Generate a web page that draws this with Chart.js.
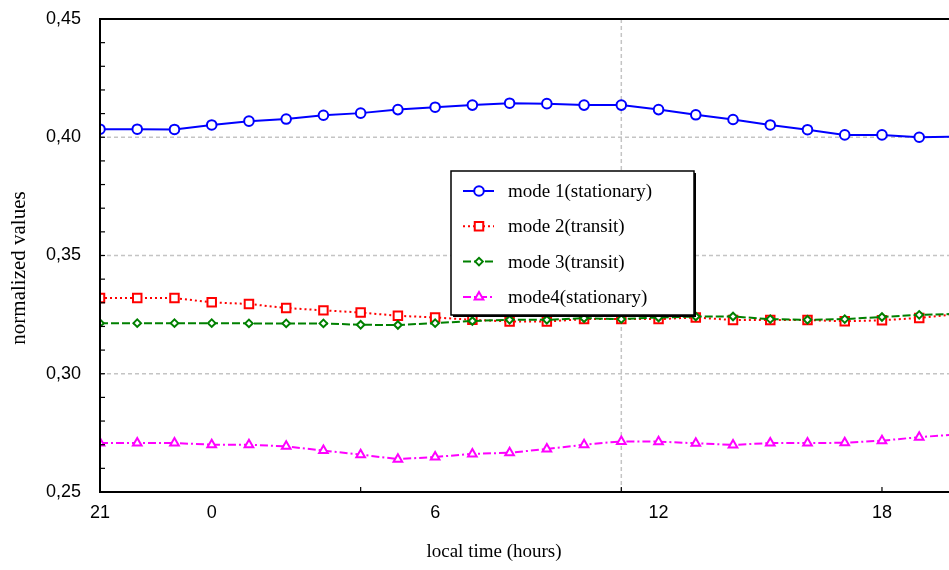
<!DOCTYPE html>
<html>
<head>
<meta charset="utf-8">
<script src="https://cdn.jsdelivr.net/npm/chart.js@4/dist/chart.umd.min.js"></script>
<style>
  html, body { margin: 0; padding: 0; background: #ffffff; }
  canvas { display: block; }
</style>
</head>
<body>
<canvas id="chart" width="949" height="570"></canvas>
<script>
// Hourly samples, starting at 21 h local time
const hours = [21, 22, 23, 0, 1, 2, 3, 4, 5, 6, 7, 8, 9, 10, 11, 12, 13, 14, 15, 16, 17, 18, 19, 20];

const mode1 = [0.4034, 0.4034, 0.4033, 0.4052, 0.4068, 0.4077, 0.4093, 0.4102, 0.4117, 0.4127, 0.4136, 0.4144,
               0.4142, 0.4136, 0.4136, 0.4117, 0.4095, 0.4075, 0.4052, 0.4032, 0.4010, 0.4010, 0.4000, 0.4003];
const mode2 = [0.3320, 0.3320, 0.3320, 0.3302, 0.3295, 0.3278, 0.3268, 0.3259, 0.3245, 0.3238, 0.3228, 0.3221,
               0.3221, 0.3231, 0.3231, 0.3231, 0.3238, 0.3227, 0.3227, 0.3227, 0.3222, 0.3226, 0.3236, 0.3252];
const mode3 = [0.3214, 0.3214, 0.3214, 0.3214, 0.3213, 0.3213, 0.3213, 0.3207, 0.3206, 0.3214, 0.3223, 0.3228,
               0.3228, 0.3235, 0.3231, 0.3238, 0.3242, 0.3242, 0.3231, 0.3228, 0.3231, 0.3240, 0.3249, 0.3253];
const mode4 = [0.2707, 0.2707, 0.2707, 0.2700, 0.2700, 0.2693, 0.2675, 0.2658, 0.2639, 0.2648, 0.2661, 0.2666,
               0.2682, 0.2700, 0.2714, 0.2713, 0.2706, 0.2699, 0.2707, 0.2707, 0.2708, 0.2717, 0.2732, 0.2743];

const seriesNames = ['mode 1(stationary)', 'mode 2(transit)', 'mode 3(transit)', 'mode4(stationary)'];

// Labelled hours on the time axis and value ticks on the vertical axis
const xTickHours = [21, 0, 6, 12, 18];
const yTicks = [0.25, 0.30, 0.35, 0.40, 0.45];

const xTitle = 'local time (hours)';
const yTitle = 'normalized values';

const SANS = "'Liberation Sans', Arial, sans-serif";
const SERIF = "'Liberation Serif', 'Times New Roman', serif";

const toPoints = vals => vals.map((v, i) => ({ x: i, y: v }));
const fmt = v => v.toFixed(2).replace('.', ',');

// Dashed grid, inward tick marks, the axis frame and the axis titles
const framePlugin = {
  id: 'frame',
  beforeDatasetsDraw(chart) {
    const { ctx, chartArea: a, scales: { x, y } } = chart;
    ctx.save();
    ctx.strokeStyle = '#c4c4c4';
    ctx.lineWidth = 1.5;
    ctx.setLineDash([4, 3]);
    yTicks.slice(1, -1).forEach(v => {
      const py = y.getPixelForValue(v);
      ctx.beginPath();
      ctx.moveTo(a.left, py);
      ctx.lineTo(a.right, py);
      ctx.stroke();
    });
    const gx = x.getPixelForValue(14);
    ctx.beginPath();
    ctx.moveTo(gx, a.top);
    ctx.lineTo(gx, a.bottom);
    ctx.stroke();
    ctx.restore();
  },
  afterDatasetsDraw(chart) {
    const { ctx, chartArea: a, scales: { x, y } } = chart;
    ctx.save();
    ctx.strokeStyle = '#000000';
    ctx.setLineDash([]);
    ctx.lineWidth = 1.2;
    // minor ticks every 0.01 on the value axis
    for (let k = 0; k <= 20; k++) {
      const py = y.getPixelForValue(0.25 + k * 0.01);
      ctx.beginPath();
      ctx.moveTo(a.left, py);
      ctx.lineTo(a.left + 5, py);
      ctx.stroke();
    }
    [0, 7, 14, 21].forEach(i => {
      const px = x.getPixelForValue(i);
      ctx.beginPath();
      ctx.moveTo(px, a.bottom);
      ctx.lineTo(px, a.bottom - 5);
      ctx.stroke();
    });
    ctx.lineWidth = 2;
    ctx.beginPath();
    ctx.moveTo(a.right, a.top);
    ctx.lineTo(a.left, a.top);
    ctx.lineTo(a.left, a.bottom);
    ctx.lineTo(a.right, a.bottom);
    ctx.stroke();

    // axis titles
    ctx.fillStyle = '#000000';
    ctx.textAlign = 'center';
    ctx.textBaseline = 'middle';
    ctx.font = '19px ' + SERIF;
    ctx.fillText(xTitle, 494, 552);
    ctx.translate(19, 268);
    ctx.rotate(-Math.PI / 2);
    ctx.font = '21px ' + SERIF;
    ctx.fillText(yTitle, 0, 0);
    ctx.restore();
  }
};

// Boxed legend inside the plot
const legendPlugin = {
  id: 'boxLegend',
  afterDraw(chart) {
    const { ctx } = chart;
    const bx = 451, by = 171, bw = 243, bh = 144;
    ctx.save();
    ctx.fillStyle = '#000000';
    ctx.fillRect(bx + 2, by + 2, bw, bh);
    ctx.fillStyle = '#ffffff';
    ctx.fillRect(bx, by, bw, bh);
    ctx.strokeStyle = '#000000';
    ctx.lineWidth = 1.5;
    ctx.strokeRect(bx, by, bw, bh);
    chart.data.datasets.forEach((ds, i) => {
      const cy = by + 20 + i * 35.3;
      ctx.strokeStyle = ds.borderColor;
      ctx.lineWidth = 2;
      ctx.setLineDash(ds.borderDash || []);
      ctx.beginPath();
      ctx.moveTo(463, cy);
      ctx.lineTo(494, cy);
      ctx.stroke();
      ctx.setLineDash([]);
      ctx.fillStyle = '#ffffff';
      ctx.strokeStyle = ds.borderColor;
      ctx.lineWidth = ds.pointBorderWidth;
      Chart.helpers.drawPoint(ctx, {
        pointStyle: ds.pointStyle, rotation: 0,
        radius: ds.pointRadius, borderWidth: ds.pointBorderWidth
      }, 479, cy);
      ctx.fillStyle = '#000000';
      ctx.font = '19px ' + SERIF;
      ctx.textBaseline = 'middle';
      ctx.textAlign = 'left';
      ctx.fillText(ds.label, 508, cy + 1);
    });
    ctx.restore();
  }
};

const common = { borderWidth: 2, pointBorderWidth: 2, pointBackgroundColor: '#ffffff', tension: 0, clip: 0, fill: false };

new Chart(document.getElementById('chart'), {
  type: 'line',
  data: {
    datasets: [
      Object.assign({}, common, { label: seriesNames[0], data: toPoints(mode1), borderColor: '#0000ff',
        pointBorderColor: '#0000ff', pointStyle: 'circle', pointRadius: 4.8, order: 0 }),
      Object.assign({}, common, { label: seriesNames[1], data: toPoints(mode2), borderColor: '#ff0000',
        pointBorderColor: '#ff0000', pointStyle: 'rect', pointRadius: 6, borderDash: [2, 3], order: 2 }),
      Object.assign({}, common, { label: seriesNames[2], data: toPoints(mode3), borderColor: '#008000',
        pointBorderColor: '#008000', pointStyle: 'rectRot', pointRadius: 3.8, borderDash: [8, 3], order: 1 }),
      Object.assign({}, common, { label: seriesNames[3], data: toPoints(mode4), borderColor: '#ff00ff',
        pointBorderColor: '#ff00ff', pointStyle: 'triangle', pointRadius: 5, borderDash: [8, 3, 2, 3], order: 0 })
    ]
  },
  options: {
    responsive: false,
    animation: false,
    devicePixelRatio: 1,
    layout: { autoPadding: false, padding: { top: 19, right: 0, left: 0, bottom: 0 } },
    plugins: { legend: { display: false }, tooltip: { enabled: false } },
    scales: {
      x: {
        type: 'linear',
        min: 0,
        max: 22.8,
        afterFit(scale) { scale.height = 78; scale.paddingLeft = 0; scale.paddingRight = 0; },
        afterBuildTicks(scale) {
          scale.ticks = xTickHours.map(h => ({ value: hours.indexOf(h) }));
        },
        ticks: {
          autoSkip: false,
          maxRotation: 0,
          color: '#000000',
          font: { family: SANS, size: 18 },
          padding: 2,
          callback: v => String(hours[v])
        },
        grid: { display: false },
        border: { display: false }
      },
      y: {
        min: 0.25,
        max: 0.45,
        afterFit(scale) { scale.width = 100; scale.paddingTop = 0; scale.paddingBottom = 0; },
        afterBuildTicks(scale) {
          scale.ticks = yTicks.map(v => ({ value: v }));
        },
        ticks: {
          color: '#000000',
          font: { family: SANS, size: 18 },
          padding: 11,
          callback: v => fmt(v)
        },
        grid: { display: false },
        border: { display: false }
      }
    }
  },
  plugins: [framePlugin, legendPlugin]
});
</script>
</body>
</html>
